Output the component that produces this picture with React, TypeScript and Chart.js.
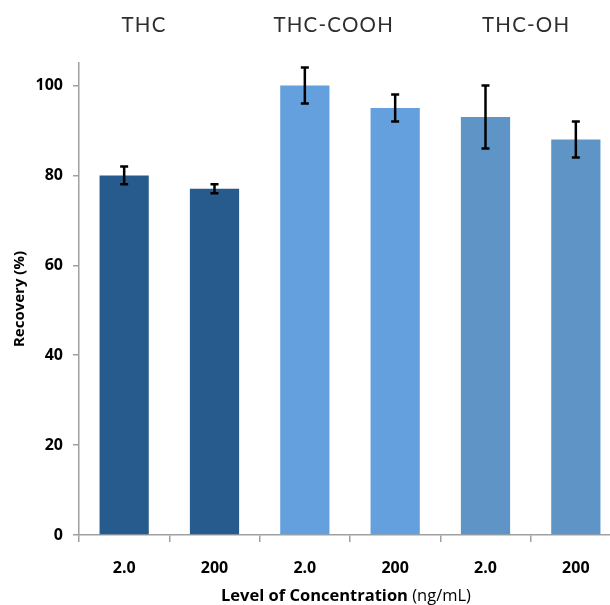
import React, { useEffect, useRef } from "react";
import { Chart, registerables } from "chart.js";

Chart.register(...registerables);

// ---- data ----
const categories = ["2.0", "200", "2.0", "200", "2.0", "200"];
const groups = ["THC", "THC-COOH", "THC-OH"];
const groupColors = ["#275B8E", "#63A0DD", "#5E94C6"];
const groupLabelPos = [0.22, 2.32, 4.45]; // position in category units
const recovery = [80, 77, 100, 95, 93, 88];
const errors = [2, 1, 4, 3, 7, 4];
const yTicks = [0, 20, 40, 60, 80, 100];

const AXIS_COLOR = "#A0A0A0";
const FONT = "'Open Sans', 'Liberation Sans', sans-serif";

const errorBarPlugin = {
  id: "errorBars",
  afterDatasetsDraw(chart: any) {
    const meta = chart.getDatasetMeta(0);
    const y = chart.scales.y;
    const ctx = chart.ctx;
    ctx.save();
    ctx.strokeStyle = "#000";
    meta.data.forEach((el: any, i: number) => {
      const top = y.getPixelForValue(recovery[i] + errors[i]);
      const bot = y.getPixelForValue(recovery[i] - errors[i]);
      ctx.lineWidth = 2.5;
      ctx.beginPath();
      ctx.moveTo(el.x, top);
      ctx.lineTo(el.x, bot);
      ctx.stroke();
      ctx.lineWidth = 2.5;
      ctx.beginPath();
      ctx.moveTo(el.x - 4, top);
      ctx.lineTo(el.x + 4, top);
      ctx.moveTo(el.x - 4, bot);
      ctx.lineTo(el.x + 4, bot);
      ctx.stroke();
    });
    ctx.restore();
  },
};

const textPlugin = {
  id: "texts",
  afterDraw(chart: any) {
    const ctx = chart.ctx;
    const area = chart.chartArea;
    const catW = (area.right - area.left) / categories.length;
    ctx.save();
    // group labels
    ctx.fillStyle = "#2E2E2E";
    ctx.font = `400 20.5px Lato, 'Open Sans', sans-serif`;
    (ctx as any).letterSpacing = "1.2px";
    ctx.textAlign = "center";
    ctx.textBaseline = "alphabetic";
    groups.forEach((g, i) => {
      const px = area.left + (groupLabelPos[i] + 0.5) * catW;
      ctx.fillText(g, px, 32);
    });
    (ctx as any).letterSpacing = "0px";

    // y title
    ctx.fillStyle = "#000";
    ctx.save();
    ctx.translate(20, (area.top + area.bottom) / 2);
    ctx.rotate(-Math.PI / 2);
    ctx.font = `bold 15px ${FONT}`;
    ctx.textAlign = "center";
    ctx.textBaseline = "middle";
    ctx.fillText("Recovery (%)", 0, 0);
    ctx.restore();

    // x title (bold + normal)
    const boldPart = "Level of Concentration";
    const normPart = " (ng/mL)";
    const size = 16.5;
    ctx.font = `bold ${size}px ${FONT}`;
    const w1 = ctx.measureText(boldPart).width;
    ctx.font = `normal ${size}px ${FONT}`;
    const w2 = ctx.measureText(normPart).width;
    const cx = 346;
    const start = cx - (w1 + w2) / 2;
    ctx.textAlign = "left";
    ctx.textBaseline = "middle";
    ctx.font = `bold ${size}px ${FONT}`;
    ctx.fillText(boldPart, start, 596);
    ctx.font = `normal ${size}px ${FONT}`;
    ctx.fillText(normPart, start + w1, 596);
    ctx.restore();
  },
};

export default function App() {
  const ref = useRef<HTMLCanvasElement | null>(null);

  useEffect(() => {
    document.body.style.margin = "0";
    const canvas = ref.current!;
    const colors = recovery.map((_, i) => groupColors[Math.floor(i / 2)]);
    const chart = new Chart(canvas, {
      type: "bar",
      data: {
        labels: categories,
        datasets: [
          {
            data: recovery,
            backgroundColor: colors,
            borderWidth: 0,
            barPercentage: 0.545,
            categoryPercentage: 1,
          },
        ],
      },
      options: {
        animation: false,
        responsive: false,
        maintainAspectRatio: false,
        events: [],
        layout: { padding: { left: 0, top: 63, right: 19, bottom: 0 } },
        plugins: {
          legend: { display: false },
          tooltip: { enabled: false },
          title: { display: false },
        },
        scales: {
          x: {
            grid: {
              display: true,
              drawOnChartArea: false,
              drawTicks: true,
              tickLength: 7,
              color: AXIS_COLOR,
              lineWidth: 1.5,
              offset: true,
            },
            border: { display: true, color: AXIS_COLOR, width: 1.5 },
            ticks: {
              color: "#000",
              font: { family: FONT, size: 16, weight: "bold" },
              padding: 17,
              maxRotation: 0,
            },
            afterFit: (s: any) => {
              s.height = 70;
            },
          },
          y: {
            min: 0,
            max: 105,
            afterBuildTicks: (s: any) => {
              s.ticks = yTicks.map((v) => ({ value: v }));
            },
            grid: {
              display: true,
              drawOnChartArea: false,
              drawTicks: true,
              tickLength: 6,
              color: AXIS_COLOR,
              lineWidth: 1.5,
            },
            border: { display: true, color: AXIS_COLOR, width: 1.5 },
            ticks: {
              color: "#000",
              font: { family: FONT, size: 16, weight: "bold" },
              padding: 10,
              includeBounds: false,
            },
            afterFit: (s: any) => {
              s.width = 79;
            },
          },
        },
      },
      plugins: [errorBarPlugin, textPlugin],
    });
    return () => chart.destroy();
  }, []);

  return (
    <div style={{ width: 610, height: 605, overflow: "hidden", position: "relative", background: "#fff" }}>
      <canvas ref={ref} width={640} height={605} style={{ display: "block" }} />
    </div>
  );
}
